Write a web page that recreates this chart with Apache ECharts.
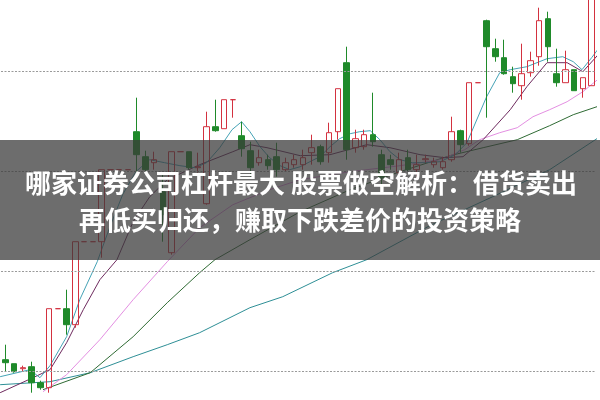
<!DOCTYPE html>
<html>
<head>
<meta charset="utf-8">
<script src="https://cdn.jsdelivr.net/npm/echarts@6/dist/echarts.min.js"></script>
<style>html,body{margin:0;padding:0;background:#fff}#c{width:600px;height:400px}</style>
</head>
<body>
<div id="c"></div>
<script>
// candle order: [open, close, low, high]
const candles = [
[11.2,10.9,10.0,12.7],[10.8,10.0,9.9,10.8],[10.3,10.4,10.0,10.6],[10.5,8.9,7.9,11.0],[8.9,8.4,8.2,9.1],
[8.4,16.3,7.9,16.3],[16.3,16.3,16.3,16.3],[16.3,14.7,13.7,18.2],[14.7,23.0,14.4,23.0],[23.0,23.0,23.0,23.0],
[23.0,23.0,23.0,23.0],[23.0,30.2,21.4,30.2],[30.2,30.2,30.2,30.2],[30.2,30.2,30.2,30.2],[30.2,30.2,30.2,30.2],
[34.0,31.7,29.2,37.4],[31.5,30.2,29.8,32.1],[30.9,31.2,30.2,32.0],[28.0,25.7,23.0,29.7],[21.9,32.0,21.7,32.0],
[32.0,32.0,32.0,32.0],[32.0,30.4,30.2,32.0],[30.4,30.5,29.9,31.9],[26.8,34.5,26.7,36.0],[34.5,34.1,34.0,37.2],
[34.3,37.2,34.3,37.2],[37.2,37.2,35.4,37.2],[33.6,32.3,31.5,35.0],[32.1,30.4,29.5,33.0],[30.9,31.4,30.6,32.2],
[31.2,30.6,30.2,31.7],[31.5,30.2,29.5,32.9],[30.2,30.9,30.0,31.4],[30.7,31.2,30.4,31.7],[30.7,31.4,30.2,32.2],
[31.9,32.4,30.7,33.7],[32.5,31.0,30.7,32.7],[31.9,33.9,30.9,34.9],[34.0,38.3,33.2,38.3],[40.9,32.2,31.2,42.5],
[32.4,33.3,31.9,34.2],[32.5,33.7,32.2,34.2],[33.7,33.0,32.5,37.9],[31.7,29.4,28.2,32.2],[31.2,30.7,30.2,31.7],
[29.9,31.2,29.7,31.9],[31.4,30.2,30.0,32.2],[30.2,30.7,29.5,31.7],[31.2,31.3,30.9,31.7],[30.7,31.0,30.4,31.4],
[30.4,31.0,30.2,31.5],[31.2,34.0,31.0,35.5],[34.1,32.7,31.9,34.2],[32.8,38.9,32.6,38.9],[38.9,38.9,38.9,38.9],
[45.1,42.5,35.4,45.2],[42.3,41.5,41.0,43.3],[41.4,39.8,39.7,43.2],[39.5,38.8,37.9,40.5],[38.6,39.8,37.2,42.8],
[39.9,41.1,39.5,42.0],[41.5,45.1,40.6,46.4],[45.3,42.5,41.0,46.0],[39.8,38.9,38.5,42.3],[38.9,40.2,38.9,42.1],
[40.2,38.1,38.1,40.2],[38.3,39.4,37.4,39.4],[38.6,48.5,38.6,49.5]
];
const days = candles.map((_, i) => 'D' + (i + 1));
const gridValues = [10, 20, 30, 40];

// moving-average lines: [position in candle units, value]
const ma5 = [[-0.6,9.5],[2.8,10.2],[3.95,9.4],[5.1,10.6],[7.0,13.5],[8.5,17.2],[10.5,21.0],[11.95,24.5],[13.4,27.7],[14.9,30.0],[16.5,31.2],[18.2,30.9],[19.95,30.6],[21.7,30.4],[23.0,30.9],[24.5,32.4],[25.9,34.2],[27.0,35.0],[27.95,34.0],[29.1,32.5],[30.2,31.4],[31.4,30.6],[32.5,30.2],[33.7,30.5],[34.8,31.0],[35.95,31.5],[37.1,32.5],[38.2,33.3],[39.4,33.8],[40.5,34.0],[41.7,34.1],[42.8,33.2],[43.95,32.0],[45.1,31.2],[46.5,30.9],[47.95,30.9],[49.7,31.0],[51.4,31.7],[52.75,32.9],[55.0,37.5],[56.5,39.9],[57.7,40.2],[59.6,40.5],[61.9,41.3],[63.7,41.5],[64.9,41.0],[65.9,40.2],[67.0,41.4],[67.95,42.5]];
const ma10 = [[-0.6,7.9],[3.15,9.4],[5.1,10.2],[7.0,12.9],[8.9,16.2],[10.8,19.2],[12.75,21.2],[14.6,25.0],[16.5,27.5],[18.5,29.2],[22.2,30.7],[26.0,32.0],[27.95,32.7],[29.9,32.4],[33.7,31.6],[37.1,31.7],[41.3,32.7],[43.95,32.4],[47.4,31.7],[50.2,31.4],[52.3,31.5],[54.6,33.2],[57.7,36.2],[59.6,38.5],[61.9,40.9],[64.2,40.9],[66.0,40.0],[67.95,41.9]];
const ma20 = [[4.3,8.0],[7.0,9.7],[10.8,13.2],[14.6,17.2],[18.5,21.0],[22.2,24.4],[26.0,26.7],[30.2,28.2],[33.7,29.2],[39.4,30.0],[45.1,30.6],[49.7,31.2],[52.5,32.2],[54.2,33.2],[56.5,33.9],[58.5,34.4],[60.3,35.5],[62.2,36.2],[64.2,37.0],[66.0,38.0],[67.95,39.4]];
const ma30 = [[4.3,8.2],[9.7,9.9],[14.6,13.5],[18.5,16.9],[22.2,19.9],[23.95,21.2],[27.95,23.2],[33.7,26.0],[39.4,28.2],[45.1,30.0],[50.8,31.6],[54.6,32.4],[58.5,33.2],[62.2,34.6],[64.9,35.7],[67.95,36.6]];
const ma60 = [[-0.6,8.7],[5.1,9.0],[9.7,9.9],[14.6,11.5],[18.5,12.7],[22.2,13.9],[27.95,16.4],[31.7,17.5],[37.4,19.9],[41.3,21.2],[48.5,24.6],[55.7,27.5],[62.2,30.2],[67.95,33.5]];

const titleLines = ['哪家证券公司杠杆最大 股票做空解析：借货卖出', '再低买归还，赚取下跌差价的投资策略'];

const chart = echarts.init(document.getElementById('c'), null, {renderer: 'canvas'});
const lineSeries = (data, color) => ({
  type: 'line', xAxisIndex: 1, yAxisIndex: 0, data: data, showSymbol: false, symbol: 'none',
  lineStyle: {color: color, width: 1}, z: 3, silent: true, animation: false
});
const gridSeries = lineSeries(ma60, '#2e8f96');
gridSeries.markLine = {
  silent: true, symbol: 'none', label: {show: false}, animation: false,
  lineStyle: {color: '#9a9a9a', width: 1, type: [2, 1.5]},
  data: gridValues.map(v => ({yAxis: v}))
};
chart.setOption({
  animation: false,
  backgroundColor: '#ffffff',
  grid: {left: 1, right: 4, top: 0, bottom: 0, containLabel: false},
  xAxis: [
    {type: 'category', data: days, boundaryGap: true, show: false},
    {type: 'value', min: -0.5, max: days.length - 0.5, show: false}
  ],
  yAxis: {
    type: 'value', min: 7.17, max: 47.17, show: false, splitLine: {show: false}
  },
  series: [
    gridSeries,
    lineSeries(ma30, '#2f6b34'),
    lineSeries(ma20, '#e48fe2'),
    lineSeries(ma10, '#6e2a5e'),
    lineSeries(ma5, '#45a3b6'),
    {
      type: 'candlestick', xAxisIndex: 0, yAxisIndex: 0, data: candles, barWidth: 6, z: 4, clip: false,
      itemStyle: {
        color: 'rgba(255,255,255,0)', color0: '#1f8a2a',
        borderColor: '#d3313f', borderColor0: '#1f8a2a', borderWidth: 1
      }
    }
  ],
  graphic: [
    {type: 'rect', z: 100, shape: {x: 0, y: 140, width: 600, height: 120}, style: {fill: 'rgba(58,58,58,0.74)'}},
    {type: 'text', z: 101, style: {text: titleLines[0], x: 301, y: 183, align: 'center', verticalAlign: 'middle',
      fill: '#ffffff', fontSize: 26, fontWeight: 'bold', fontFamily: '"Noto Sans CJK SC"'}},
    {type: 'text', z: 101, style: {text: titleLines[1], x: 300, y: 220, align: 'center', verticalAlign: 'middle',
      fill: '#ffffff', fontSize: 26, fontWeight: 'bold', fontFamily: '"Noto Sans CJK SC"'}}
  ]
});
</script>
</body>
</html>
